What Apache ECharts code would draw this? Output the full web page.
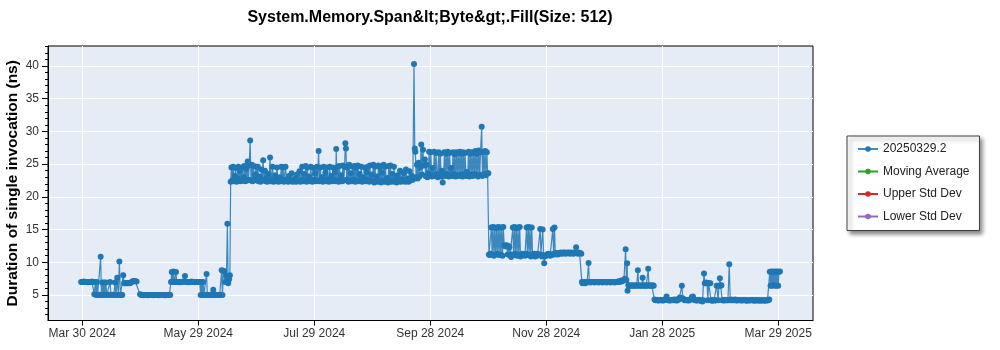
<!DOCTYPE html>
<html>
<head>
<meta charset="utf-8">
<script src="https://cdn.jsdelivr.net/npm/echarts@6/dist/echarts.min.js"></script>
<style>
  html, body { margin: 0; padding: 0; background: #ffffff; }
  #chart { width: 1000px; height: 350px; }
</style>
</head>
<body>
<div id="chart"></div>
<script>
// Benchmark history: x = days since Mar 30 2024, y = duration in ns.
const chartTitle = 'System.Memory.Span&lt;Byte&gt;.Fill(Size: 512)';
const yAxisTitle = 'Duration of single invocation (ns)';

const tickDays = [0, 60.667, 121.333, 182, 242.667, 303.333, 364];
const tickLabels = ['Mar 30 2024', 'May 29 2024', 'Jul 29 2024', 'Sep 28 2024', 'Nov 28 2024', 'Jan 28 2025', 'Mar 29 2025'];
const yMajorTicks = [5, 10, 15, 20, 25, 30, 35, 40];
const yMinorTicks = [2, 3, 4, 6, 7, 8, 9, 11, 12, 13, 14, 16, 17, 18, 19, 21, 22, 23, 24, 26, 27, 28, 29, 31, 32, 33, 34, 36, 37, 38, 39, 41, 42, 43];

const seriesNames = ['20250329.2', 'Moving Average', 'Upper Std Dev', 'Lower Std Dev'];
const seriesColors = ['#1f77b4', '#2ca02c', '#d62728', '#9467bd'];

const springRuns = [
  [-0.6,7.0],[0.1,7.0],[0.8,7.05],[1.5,7.0],[2.2,7.0],[2.9,6.95],[3.6,7.0],[4.3,7.0],[5.0,7.05],[5.7,7.0],
  [6.3,5.1],[6.8,7.0],[7.3,5.0],[7.6,7.0],[8.0,5.0],[8.5,5.0],[9.0,5.05],[9.6,10.85],[10.0,5.0],[10.4,6.9],
  [10.9,5.0],[11.3,6.9],[11.8,5.05],[12.3,6.9],[12.8,5.0],[13.3,5.0],[13.8,5.05],[14.5,7.0],[15.0,5.0],[15.5,5.0],
  [16.0,5.05],[16.5,5.0],[17.1,6.9],[17.6,5.0],[18.3,7.65],[18.8,5.0],[19.4,10.1],[19.9,5.0],[20.4,5.05],[20.9,5.0],
  [21.4,8.0],[21.9,6.8],[22.4,6.8],[22.9,6.85],[23.4,6.8],[23.9,6.8],[24.4,6.85],[24.9,6.8],[25.4,6.9],[25.9,7.0],
  [26.4,7.1],[26.8,7.15],[27.2,7.15],[27.7,7.1],[28.4,7.05],[30.2,5.1],[30.8,5.0],[31.5,5.0],[32.2,4.95],[32.9,5.0],
  [33.6,5.0],[34.3,4.95],[35.0,5.0],[35.7,5.0],[36.4,5.0],[37.1,4.95],[37.8,5.0],[38.5,5.0],[39.2,5.0],[39.9,4.95],
  [40.6,5.0],[41.3,5.0],[42.0,5.0],[42.7,5.0],[43.4,4.95],[44.1,5.0],[44.8,5.0],[45.5,5.05],[46.0,5.0],[46.4,7.0],
  [46.8,8.5],[47.2,7.0],[47.6,8.6],[48.0,7.0],[48.5,7.05],[49.0,8.5],[49.4,7.0],[49.9,7.0],[50.5,7.0],[51.1,6.95],
  [51.7,7.0],[52.3,7.0],[52.9,7.05],[53.7,7.9],[54.2,7.0],[54.8,7.0],[55.4,6.95],[56.0,7.0],[56.6,7.0],[57.2,7.05],
  [57.8,7.0],[58.4,7.0],[59.0,6.95],[59.6,7.0],[60.2,7.0],[60.8,7.0],[61.4,7.0],[61.9,5.0],[62.3,7.0],[62.7,5.0],
  [63.2,7.0],[63.6,5.0],[64.1,5.0],[64.5,5.05],[65.0,8.2],[65.4,5.0],[65.9,5.0],[66.4,5.0],[66.9,5.05],[67.4,5.0],
  [67.9,5.0],[68.5,5.8],[68.9,5.0],[69.4,5.0],[69.9,5.05],[70.4,5.0],[70.9,5.0],[71.4,5.0],[71.9,5.05],[72.4,5.0],
  [72.9,8.8],[73.3,5.0],[73.8,8.7],[74.3,8.6],[74.8,7.0],[75.4,7.9],[75.9,15.9],[76.3,6.8],[76.8,7.4],[77.2,8.0]
];

const summerRuns = [
  [77.6,22.3],[78.0,24.5],[78.4,22.5],[78.9,24.6],[79.3,22.4],[79.8,23.2],[80.2,24.4],[80.7,22.3],[81.1,22.8],[81.6,24.6],
  [82.0,22.5],[82.5,23.9],[82.9,22.4],[83.4,24.5],[83.8,22.6],[84.3,23.0],[84.7,24.7],[85.2,22.4],[85.6,24.3],[86.1,22.5],
  [86.5,25.4],[86.9,22.6],[87.3,24.8],[87.8,28.6],[88.2,22.5],[88.7,24.9],[89.1,22.4],[89.6,24.7],[90.0,22.7],[90.5,23.4],
  [90.9,24.6],[91.4,22.5],[91.8,24.6],[92.3,22.4],[92.8,23.1],[93.2,22.3],[93.7,24.2],[94.1,22.5],[94.6,25.6],[95.0,22.6],
  [95.5,24.0],[95.9,22.4],[96.4,22.9],[96.8,22.3],[97.3,23.5],[97.7,22.5],[98.2,26.0],[98.6,22.4],[99.1,22.7],[99.5,24.6],
  [100.0,22.3],[100.5,22.5],[100.9,23.3],[101.4,22.4],[101.8,24.5],[102.3,22.6],[102.7,22.3],[103.2,23.0],[103.6,22.4],[104.1,24.6],
  [104.5,22.5],[105.0,24.5],[105.4,22.3],[105.9,22.6],[106.3,24.6],[106.8,22.4],[107.2,22.7],[107.7,22.3],[108.1,23.2],[108.6,22.5],
  [109.0,22.4],[109.5,23.6],[110.0,22.3],[110.5,22.6],[110.9,22.4],[111.4,22.8],[111.8,22.3],[112.3,23.4],[112.7,22.5],[113.2,22.4],
  [113.6,23.9],[114.1,22.3],[114.6,22.6],[115.0,24.6],[115.5,22.4],[115.9,23.5],[116.4,22.5],[116.8,24.7],[117.3,22.3],[117.7,24.5],
  [118.2,22.6],[118.6,23.1],[119.1,22.4],[119.5,24.6],[120.0,22.5],[120.4,22.3],[120.9,24.4],[121.3,22.6],[121.8,23.6],[122.2,22.4],
  [122.7,24.6],[123.1,22.5],[123.6,27.0],[124.0,22.4],[124.5,24.5],[124.9,22.6],[125.4,23.0],[125.8,22.3],[126.3,24.6],[126.7,22.5],
  [127.2,23.7],[127.6,22.4],[128.1,24.5],[128.5,22.7],[129.0,22.3],[129.4,24.6],[129.9,22.5],[130.3,23.2],[130.8,22.4],[131.2,24.5],
  [131.7,22.6],[132.1,23.8],[132.6,22.4],[132.8,27.3],[133.2,22.5],[133.6,24.6],[134.1,22.3],[134.5,24.7],[135.0,22.6],[135.4,23.3],
  [135.9,22.4],[136.3,24.8],[136.8,22.5],[137.2,24.6],[137.6,28.2],[137.9,27.4],[138.3,22.6],[138.7,24.5],[139.2,22.3],[139.6,24.9],
  [140.1,22.5],[140.5,23.6],[141.0,22.4],[141.4,24.6],[141.9,22.6],[142.3,24.7],[142.8,22.3],[143.2,24.4],[143.7,22.5],[144.1,24.8],
  [144.6,22.4],[145.0,23.5],[145.5,22.6],[145.9,24.6],[146.4,22.3],[146.8,23.0],[147.3,22.5],[147.7,24.5],[148.2,22.4],[148.6,23.8],
  [149.1,22.6],[149.5,24.6],[150.0,22.3],[150.4,24.8],[150.9,22.5],[151.3,23.4],[151.8,22.4],[152.2,24.9],[152.7,22.2],[153.1,24.6],
  [153.6,22.5],[154.0,23.1],[154.5,22.3],[154.9,24.8],[155.4,22.4],[155.8,24.5],[156.3,22.2],[156.7,23.7],[157.2,22.5],[157.6,24.9],
  [158.1,22.3],[158.5,24.6],[159.0,22.4],[159.4,22.9],[159.9,22.2],[160.3,24.7],[160.8,22.5],[161.2,24.8],[161.7,22.3],[162.1,23.5],
  [162.6,22.4],[163.0,24.6],[163.5,22.3],[163.9,22.6],[164.4,22.2],[164.8,23.3],[165.3,22.5],[165.7,22.4],[166.2,24.0],[166.6,22.3],
  [167.1,22.7],[167.5,22.4],[168.0,23.6],[168.4,22.5],[168.9,22.3],[169.3,24.2],[169.8,22.4],[170.2,22.8],[170.7,22.3],[171.1,23.9],
  [171.6,22.5],[172.0,22.6],[172.5,23.2],[172.9,22.6],[173.5,40.3],[173.9,27.4],[174.2,26.9],[174.6,23.0],[175.0,24.9],[175.4,22.8],
  [175.9,25.2],[176.3,23.1],[176.8,24.5],[177.3,28.0],[177.7,23.4],[178.2,27.2],[178.6,24.8],[179.2,25.7],[179.6,23.2],[180.1,24.9],
  [180.5,23.0],[181.0,23.6],[181.4,26.9],[181.9,23.3],[182.3,26.8],[182.8,23.1],[183.2,24.4],[183.7,23.4],[184.1,26.9],[184.6,23.2],
  [185.0,26.7],[185.5,23.5],[185.9,23.0],[186.4,26.8],[186.8,23.3],[187.3,26.6],[187.7,23.1],[188.1,24.0],[188.5,22.2],[189.0,23.4],
  [189.4,26.8],[189.9,23.2],[190.3,26.6],[190.8,23.5],[191.2,26.9],[191.7,23.1],[192.1,26.7],[192.6,23.4],[193.0,24.4],[193.5,23.2],
  [193.9,26.8],[194.4,23.5],[194.8,26.5],[195.3,23.1],[195.7,26.8],[196.2,23.3],[196.6,26.7],[197.1,23.2],[197.5,26.9],[198.0,23.4],
  [198.4,26.6],[198.9,23.1],[199.3,26.8],[199.8,23.5],[200.2,26.7],[200.7,23.2],[201.1,23.8],[201.6,23.3],[202.0,26.9],[202.5,23.1],
  [202.9,26.6],[203.4,23.4],[203.8,26.8],[204.3,23.2],[204.7,26.7],[205.2,23.5],[205.6,27.0],[206.1,23.3],[206.5,26.6],[207.0,23.1],
  [207.4,27.1],[207.9,23.4],[208.3,26.8],[208.9,30.7],[209.3,23.2],[209.8,26.9],[210.2,23.5],[210.7,27.0],[211.1,23.3],[211.6,26.8],
  [212.0,23.6],[212.4,23.6]
];

const autumnRuns = [
  [212.7,11.2],[213.1,11.1],[213.5,11.3],[214.0,15.3],[214.4,11.2],[214.8,15.4],[215.3,11.0],[215.7,15.3],[216.2,11.2],[216.6,15.2],
  [217.1,11.3],[217.5,15.4],[218.0,11.1],[218.4,15.3],[218.9,11.2],[219.3,15.3],[219.8,11.0],[220.2,15.4],[220.7,12.6],[221.1,12.5],
  [221.6,12.4],[222.0,12.6],[222.5,11.2],[222.9,12.5],[223.4,12.3],[223.8,11.1],[224.3,10.8],[224.7,11.2],[225.2,15.3],[225.6,11.1],
  [226.1,15.4],[226.5,11.3],[227.0,15.2],[227.4,11.0],[227.9,15.3],[228.3,11.2],[228.8,15.4],[229.2,10.9],[229.7,11.2],[230.1,11.3],
  [230.6,11.1],[231.0,11.2],[231.5,11.0],[231.9,11.3],[232.4,15.3],[232.8,11.1],[233.3,15.4],[233.7,11.2],[234.2,15.3],[234.6,10.9],
  [235.1,15.3],[235.5,11.2],[236.0,11.1],[236.4,11.3],[236.9,10.9],[237.3,11.2],[237.8,11.0],[238.2,11.3],[238.7,11.1],[239.5,15.1],
  [239.9,11.2],[240.4,10.9],[240.8,15.0],[241.3,11.0],[241.6,9.85],[242.0,10.9],[242.5,11.0],[242.9,11.2],[243.4,11.1],[243.8,11.3],
  [244.3,11.2],[244.7,11.0],[245.2,11.2],[245.6,11.1],[246.1,15.1],[246.5,11.3],[247.0,15.3],[247.4,11.2],[247.9,11.4],[248.4,11.3],
  [248.8,11.2],[249.3,11.4],[249.7,11.3],[250.2,11.5],[250.6,11.4],[251.1,11.3],[251.5,11.5],[252.0,11.4],[252.4,11.5],[252.9,11.3],
  [253.3,11.4],[253.8,11.5],[254.2,11.4],[254.7,11.5],[255.1,11.3],[255.6,11.4],[256.0,11.5],[256.5,11.4],[256.9,11.3],[257.4,11.5],
  [257.8,11.4],[258.3,12.3],[258.7,11.4],[259.2,11.3],[259.6,11.5],[260.1,11.4],[260.5,11.4],[261.0,11.3]
];

const winterRuns = [
  [261.3,7.0],[261.7,6.8],[262.1,6.9],[262.6,7.0],[263.0,6.8],[263.5,7.0],[264.0,6.9],[264.8,9.9],[265.2,7.0],[265.8,6.9],
  [266.5,7.0],[267.2,7.0],[267.9,6.9],[268.6,7.0],[269.3,7.0],[270.0,6.9],[270.7,7.0],[271.4,7.0],[272.1,6.9],[272.8,7.0],
  [273.5,7.0],[274.2,6.9],[274.9,7.0],[275.6,7.0],[276.3,6.9],[277.0,7.0],[277.7,7.0],[278.4,6.9],[279.1,7.0],[279.8,7.0],
  [280.5,7.1],[281.2,7.0],[281.9,7.2],[282.6,7.1],[283.3,7.3],[283.8,7.5],[284.2,12.0],[284.6,7.3],[285.0,9.85],[285.2,5.65],
  [285.6,6.5],[286.0,6.4],[286.5,6.5],[287.0,6.4],[287.5,6.4],[288.0,6.5],[288.5,6.4],[289.0,6.4],[289.5,6.5],[290.0,6.4],
  [290.6,8.8],[291.0,6.4],[291.5,6.5],[292.0,6.4],[292.6,6.4],[293.1,7.65],[293.5,6.4],[294.0,6.5],[294.5,6.4],[295.0,6.4],
  [295.5,6.5],[296.0,9.0],[296.4,6.4],[296.9,6.5],[297.4,6.4],[297.9,6.4],[298.4,6.5],[298.9,6.4],
  [299.3,4.3],[299.8,4.2],[300.3,4.25],[300.8,4.2],[301.3,4.15],[301.8,4.2],[302.3,4.25],[302.8,4.2],[303.3,4.2],[303.8,4.15],
  [304.3,4.2],[304.8,4.3],[305.6,4.75],[306.1,4.25],[306.6,4.2],[307.1,4.15],[307.6,4.2],[308.1,4.2],[308.6,4.25],[309.1,4.2],
  [309.6,4.3],[310.1,4.2],[310.6,4.2],[311.1,4.15],[311.6,4.4],[312.1,4.3],[312.6,4.6],[313.6,6.4],[314.1,4.5],[314.6,4.3],
  [315.1,4.2],[315.6,4.25],[316.1,4.2],[316.6,4.2],[317.1,4.15],[317.6,4.2],[318.1,4.3],[318.8,4.7],[319.4,4.75],[319.9,4.3],
  [320.4,4.2],[320.9,4.2],[321.4,4.15],[321.9,4.2],[322.4,4.25],[322.9,4.2],[323.4,4.1],[323.9,4.2],[324.4,4.0],[324.8,4.2],
  [325.2,8.3],[325.6,6.8],[326.0,6.8],[326.4,6.9],[326.8,6.8],[327.2,4.2],[327.6,6.8],[328.0,6.8],[328.5,6.8],[328.9,4.2],
  [329.4,4.1],[329.9,4.2],[330.4,4.2],[330.9,4.15],[331.4,4.2],[331.8,6.4],[332.2,6.4],[332.6,4.2],[333.0,6.4],[333.5,7.55],
  [333.9,6.4],[334.3,6.5],[334.7,4.2],[335.2,4.2],[335.7,4.15],[336.2,4.2],[336.7,4.25],[337.2,4.2],[337.7,4.2],[338.4,9.7],
  [338.9,4.2],[339.4,4.3],[339.9,4.2],[340.4,4.25],[340.9,4.2],[341.4,4.3],[341.9,4.2],[342.4,4.15],[342.9,4.2],[343.4,4.25],
  [343.9,4.2],[344.4,4.2],[344.9,4.15],[345.4,4.2],[345.9,4.2],[346.4,4.25],[346.9,4.2],[347.4,4.1],[347.9,4.2],[348.4,4.2],
  [348.9,4.15],[349.4,4.2],[349.9,4.2],[350.4,4.25],[350.9,4.2],[351.4,4.1],[351.9,4.2],[352.4,4.2],[352.9,4.15],[353.4,4.2],
  [353.9,4.2],[354.4,4.1],[354.9,4.2],[355.4,4.15],[355.9,4.2],[356.4,4.2],[356.9,4.1],[357.4,4.2],[357.9,4.15],[358.4,4.2],
  [358.9,4.2],[359.3,4.3],[359.6,8.55],[360.0,6.4],[360.4,8.6],[360.8,6.4],[361.2,8.55],[361.6,6.5],[362.0,8.6],[362.4,6.4],
  [362.8,8.55],[363.2,6.4],[363.6,8.6],[364.0,6.4],[364.4,8.55],[364.9,8.6]
];

const runs = springRuns.concat(summerRuns, autumnRuns, winterRuns);

const FONT = 'Liberation Sans';
const gridBox = { left: 48, right: 187, top: 46, bottom: 29.5, outerBoundsMode: 'none', containLabel: false };
const xRange = { min: -17.94, max: 382.2 };
const yRange = { min: 1.1, max: 43.06 };

function labelForDay(v) {
  for (let i = 0; i < tickDays.length; i++) {
    if (Math.abs(tickDays[i] - v) < 0.01) return tickLabels[i];
  }
  return '';
}

const chart = echarts.init(document.getElementById('chart'), null, { renderer: 'canvas' });

chart.setOption({
  animation: false,
  backgroundColor: '#ffffff',
  textStyle: { fontFamily: FONT },
  title: {
    text: chartTitle,
    left: 425,
    top: 5,
    textAlign: 'center',
    textStyle: { fontFamily: FONT, fontSize: 16, fontWeight: 'bold', color: '#000000' }
  },
  grid: [
    Object.assign({ show: true, backgroundColor: '#E5ECF6', borderColor: '#000000', borderWidth: 1 }, gridBox),
    Object.assign({ show: false }, gridBox)
  ],
  legend: {
    orient: 'vertical',
    left: 847,
    top: 136,
    padding: [7, 10, 8, 10],
    itemGap: 10.5,
    itemWidth: 20,
    itemHeight: 7,
    backgroundColor: '#ffffff',
    borderColor: '#404040',
    borderWidth: 1,
    shadowColor: 'rgba(0,0,0,0.45)',
    shadowBlur: 4,
    shadowOffsetX: 3,
    shadowOffsetY: 3,
    textStyle: { fontFamily: FONT, fontSize: 12, color: '#222222' },
    data: seriesNames
  },
  xAxis: [
    {
      type: 'value',
      gridIndex: 0,
      min: xRange.min,
      max: xRange.max,
      axisLine: { show: true, onZero: false, lineStyle: { color: '#000000', width: 1 } },
      axisTick: { show: true, length: 5, lineStyle: { color: '#000000' }, customValues: tickDays },
      axisLabel: {
        customValues: tickDays,
        formatter: labelForDay,
        margin: 7,
        fontFamily: FONT,
        fontSize: 12,
        color: '#333333'
      },
      splitLine: { show: true, lineStyle: { color: '#ffffff', width: 1 } }
    },
    {
      type: 'value',
      gridIndex: 1,
      min: xRange.min,
      max: xRange.max,
      show: false
    }
  ],
  yAxis: [
    {
      type: 'value',
      gridIndex: 0,
      min: yRange.min,
      max: yRange.max,
      name: yAxisTitle,
      nameLocation: 'middle',
      nameGap: 27,
      nameRotate: 90,
      nameMoveOverlap: false,
      nameTextStyle: { fontFamily: FONT, fontSize: 15.5, fontWeight: 'bold', color: '#000000' },
      axisLine: { show: true, onZero: false, lineStyle: { color: '#000000', width: 1 } },
      axisTick: { show: true, length: 6, lineStyle: { color: '#000000' }, customValues: yMajorTicks },
      axisLabel: {
        customValues: yMajorTicks,
        margin: 9,
        fontFamily: FONT,
        fontSize: 12,
        color: '#333333'
      },
      splitLine: { show: true, lineStyle: { color: '#ffffff', width: 1 } }
    },
    {
      type: 'value',
      gridIndex: 1,
      min: yRange.min,
      max: yRange.max,
      axisLine: { show: false, onZero: false },
      axisTick: { show: true, length: 3, lineStyle: { color: '#000000' }, customValues: yMinorTicks },
      axisLabel: { show: false },
      splitLine: { show: false }
    }
  ],
  series: [
    {
      name: seriesNames[0],
      type: 'line',
      xAxisIndex: 0,
      yAxisIndex: 0,
      data: runs,
      symbol: 'circle',
      symbolSize: 6,
      showSymbol: true,
      clip: true,
      itemStyle: { color: seriesColors[0] },
      lineStyle: { color: seriesColors[0], width: 1.2, opacity: 0.85 }
    },
    {
      name: seriesNames[1], type: 'line', data: [], symbol: 'circle',
      itemStyle: { color: seriesColors[1] }, lineStyle: { color: seriesColors[1], width: 1.2 }
    },
    {
      name: seriesNames[2], type: 'line', data: [], symbol: 'circle',
      itemStyle: { color: seriesColors[2] }, lineStyle: { color: seriesColors[2], width: 1.2 }
    },
    {
      name: seriesNames[3], type: 'line', data: [], symbol: 'circle',
      itemStyle: { color: seriesColors[3] }, lineStyle: { color: seriesColors[3], width: 1.2 }
    }
  ]
});
</script>
</body>
</html>
